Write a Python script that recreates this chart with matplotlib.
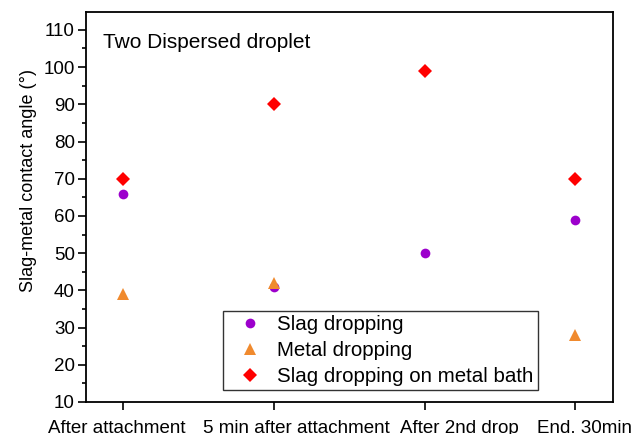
import numpy as np
import matplotlib.pyplot as plt
import matplotlib.transforms as mtransforms
from matplotlib.ticker import MultipleLocator

plt.rcParams['font.family'] = ['Liberation Sans', 'DejaVu Sans']

stages = ['After attachment', '5 min after attachment', 'After 2nd drop', 'End. 30min']
slag_dropping = [66, 41, 50, 59]
metal_dropping = [39, 42, np.nan, 28]
slag_on_bath = [70, 90, 99, 70]

# horizontal nudges (pixels) of the category labels, as placed in the original
label_shift_px = [-6.5, 23, 35, 9]

x = np.arange(len(stages))

fig = plt.figure(figsize=(6.33, 4.34), dpi=100)
ax = fig.add_axes([86 / 633, 32 / 434, 527 / 633, 390 / 434])

ax.plot(x, slag_dropping, 'o', color='#9C00CC', markersize=7, markeredgewidth=0,
        label='Slag dropping')
ax.plot(x, metal_dropping, '^', color='#F08A2E', markersize=8.5, markeredgewidth=0,
        label='Metal dropping')
ax.plot(x, slag_on_bath, 'D', color='#FF0000', markersize=7.5, markeredgewidth=0,
        label='Slag dropping on metal bath')

ax.set_xlim(-0.245, 3.25)
ax.set_ylim(10, 114.8)
ax.set_xticks(x)
ax.set_xticklabels([])
# category labels drawn as text so they can sit off-centre like the original
for xi, name, dx in zip(x, stages, label_shift_px):
    tr = ax.get_xaxis_transform() + mtransforms.ScaledTranslation(
        dx / 100, -18 / 100, fig.dpi_scale_trans)
    ax.text(xi, 0, name, transform=tr, ha='center', va='top', fontsize=13.5,
            clip_on=False)

ax.yaxis.set_major_locator(MultipleLocator(10))
ax.yaxis.set_minor_locator(MultipleLocator(5))
ax.tick_params(axis='y', which='major', direction='out', length=6, width=1.2,
               labelsize=13.5, pad=2)
ax.tick_params(axis='y', which='minor', direction='out', length=3, width=1.2)
ax.tick_params(axis='x', direction='out', length=6, width=1.2)
for s in ax.spines.values():
    s.set_linewidth(1.3)

ax.set_ylabel('Slag-metal contact angle (°)', fontsize=13)
ax.yaxis.set_label_coords(-0.093, 0.567)
ax.text(0.032, 0.945, 'Two Dispersed droplet', transform=ax.transAxes, fontsize=15,
        va='top', ha='left')

leg = ax.legend(loc='lower left', bbox_to_anchor=(0.260, 0.03), fontsize=14.8,
                frameon=True, fancybox=False, edgecolor='black', borderpad=0.2,
                labelspacing=0.35, handlelength=2.2, handletextpad=0.25,
                borderaxespad=0)
leg.get_frame().set_linewidth(1.0)

fig.savefig('out.png', dpi=100)
